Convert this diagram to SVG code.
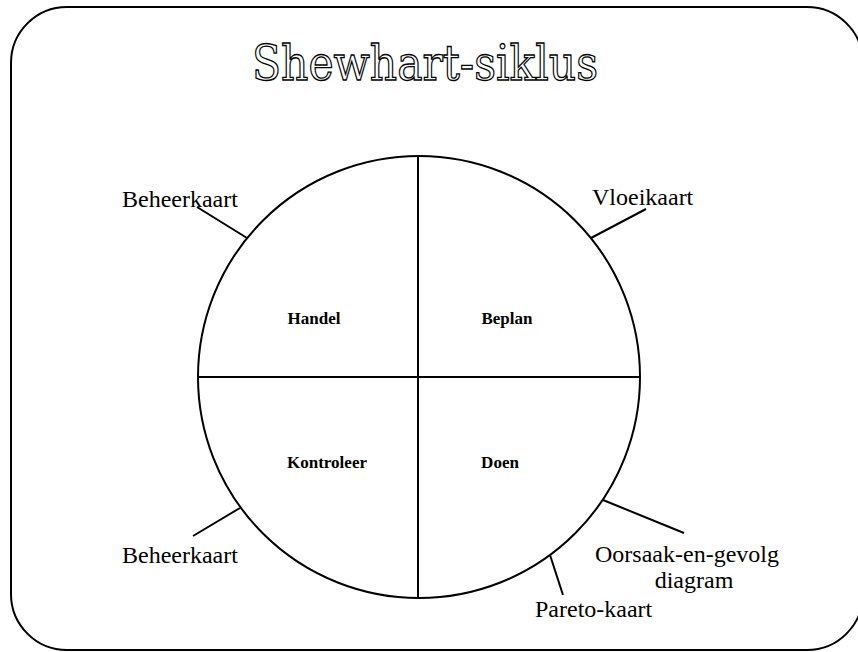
<svg xmlns="http://www.w3.org/2000/svg" width="858" height="652" viewBox="0 0 858 652">
<style>
.line{stroke:#000;stroke-width:2;fill:none}
.lbl{font-family:"Liberation Serif","Times New Roman",serif;font-size:24px;fill:#000}
.q{font-family:"Liberation Serif","Times New Roman",serif;font-size:17px;font-weight:bold;fill:#000;text-anchor:middle}
.title{font-family:"DejaVu Serif","Liberation Serif",serif;font-size:48px;fill:#fff;stroke:#000;stroke-width:1.3}
</style>
<rect width="858" height="652" fill="#fff"/>
<rect id="frame" x="11" y="7" width="852" height="643" rx="56" ry="56" class="line" stroke-width="2.5"/>
<text id="title" class="title" x="252" y="80" textLength="346" lengthAdjust="spacingAndGlyphs">Shewhart-siklus</text>
<g id="cycle">
<circle cx="419" cy="377" r="221" class="line"/>
<line x1="418" y1="156" x2="418" y2="598" class="line"/>
<line x1="198" y1="377" x2="640" y2="377" class="line"/>
</g>
<g id="handel"><text class="q" x="314" y="324">Handel</text></g>
<g id="beplan"><text class="q" x="507" y="324">Beplan</text></g>
<g id="kontroleer"><text class="q" x="327" y="468">Kontroleer</text></g>
<g id="doen"><text class="q" x="500" y="468">Doen</text></g>
<g id="connectors">
<line x1="197" y1="207" x2="247" y2="238" class="line"/>
<line x1="591" y1="238" x2="646" y2="209" class="line"/>
<line x1="240" y1="508" x2="193" y2="536" class="line"/>
<line x1="603" y1="500" x2="684" y2="533" class="line"/>
<line x1="550" y1="555" x2="563" y2="595" class="line"/>
</g>
<g id="beheerkaart-top"><text class="lbl" x="122" y="207">Beheerkaart</text></g>
<g id="vloeikaart"><text class="lbl" x="592" y="205">Vloeikaart</text></g>
<g id="beheerkaart-bottom"><text class="lbl" x="122" y="563">Beheerkaart</text></g>
<g id="oorsaak"><text class="lbl" x="687" y="562" text-anchor="middle">Oorsaak-en-gevolg</text><text class="lbl" x="694" y="588" text-anchor="middle">diagram</text></g>
<g id="pareto"><text class="lbl" x="535" y="617">Pareto-kaart</text></g>
</svg>
